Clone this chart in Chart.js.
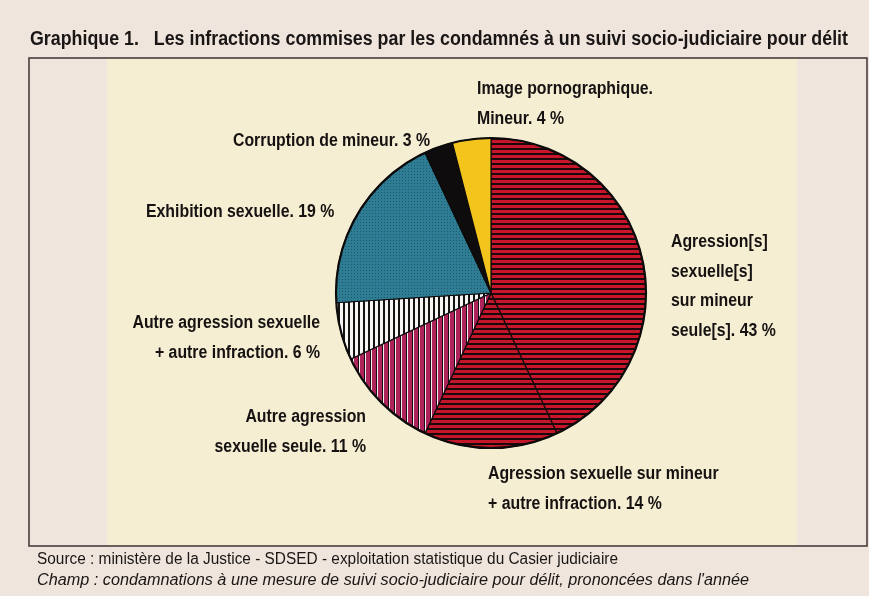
<!DOCTYPE html>
<html>
<head>
<meta charset="utf-8">
<script src="https://cdn.jsdelivr.net/npm/chart.js@4/dist/chart.umd.min.js"></script>
<style>
  html, body { margin: 0; padding: 0; }
  body { width: 869px; height: 596px; background: #efe5dc; position: relative; overflow: hidden; }
  #c { position: absolute; left: 0; top: 0; width: 869px; height: 596px; }
  .txt { position: absolute; white-space: nowrap; transform-origin: 0 0; color: #1a1616; font-family: "Liberation Sans", Arial, sans-serif; }
  #title { left: 30px; top: 27px; font-size: 20px; font-weight: 700; }
  #src1 { left: 37px; top: 550px; font-size: 16px; }
  #src2 { left: 37px; top: 571px; font-size: 16px; font-style: italic; }
</style>
</head>
<body>
<canvas id="c" width="869" height="596"></canvas>
<div id="title" class="txt" data-w="818">Graphique 1.&nbsp;&nbsp; Les infractions commises par les condamnés à un suivi socio-judiciaire pour délit</div>
<div id="src1" class="txt" data-w="581">Source : ministère de la Justice - SDSED - exploitation statistique du Casier judiciaire</div>
<div id="src2" class="txt" data-w="712">Champ : condamnations à une mesure de suivi socio-judiciaire pour délit, prononcées dans l'année</div>
<script>
// ---- data ----
const categories = [
  "Agression[s] sexuelle[s] sur mineur seule[s]",
  "Agression sexuelle sur mineur + autre infraction",
  "Autre agression sexuelle seule",
  "Autre agression sexuelle + autre infraction",
  "Exhibition sexuelle",
  "Corruption de mineur",
  "Image pornographique. Mineur"
];
const values = [43, 14, 11, 6, 19, 3, 4];
const labelLines = [
  ["Agression[s]", "sexuelle[s]", "sur mineur", "seule[s]"],
  ["Agression sexuelle sur mineur", "+ autre infraction"],
  ["Autre agression", "sexuelle seule"],
  ["Autre agression sexuelle", "+ autre infraction"],
  ["Exhibition sexuelle"],
  ["Corruption de mineur"],
  ["Image pornographique.", "Mineur"]
];

// ---- fit DOM text widths ----
document.querySelectorAll('.txt').forEach(el => {
  const w = +el.dataset.w;
  const cur = el.getBoundingClientRect().width;
  if (cur > 0) el.style.transform = 'scaleX(' + (w / cur) + ')';
});

// ---- patterns ----
function makePattern(w, h, draw) {
  const cv = document.createElement('canvas');
  cv.width = w; cv.height = h;
  const g = cv.getContext('2d');
  draw(g, w, h);
  return g.createPattern(cv, 'repeat');
}
const pRed = makePattern(5, 5, (g) => {
  g.fillStyle = '#c8152b'; g.fillRect(0, 0, 5, 5);
  g.fillStyle = '#1a080a'; g.fillRect(0, 3, 5, 2);
});
const pRed2 = makePattern(5, 5, (g) => {
  g.fillStyle = '#c4162a'; g.fillRect(0, 0, 5, 5);
  g.fillStyle = '#1a080a'; g.fillRect(0, 3, 5, 2);
});
const pMag = makePattern(6, 6, (g) => {
  g.fillStyle = '#ad235a'; g.fillRect(0, 0, 6, 6);
  g.fillStyle = '#1a0a10'; g.fillRect(4, 0, 1, 6);
  g.fillStyle = '#f3eef0'; g.fillRect(5, 0, 1, 6);
});
const pWhite = makePattern(5, 5, (g) => {
  g.fillStyle = '#f8f6f4'; g.fillRect(0, 0, 5, 5);
  g.fillStyle = '#151212'; g.fillRect(3, 0, 2, 5);
});
const pTeal = makePattern(3, 3, (g) => {
  g.fillStyle = '#2f7d94'; g.fillRect(0, 0, 3, 3);
  g.fillStyle = '#1f5868'; g.fillRect(0, 0, 1, 1);
});
const sliceFill = [pRed, pRed2, pMag, pWhite, pTeal, '#0e0c0c', '#f3c51c'];

// ---- label placement (page pixels) ----
const labelPos = [
  { x: 671, y: 247, align: 'left' },
  { x: 488, y: 479, align: 'left' },
  { x: 366, y: 422, align: 'right' },
  { x: 320, y: 328, align: 'right' },
  { x: 146, y: 217, align: 'left' },
  { x: 233, y: 146, align: 'left' },
  { x: 477, y: 94, align: 'left' }
];
const LINE_H = 29.5;
const SX = 0.88;

const framePlugin = {
  id: 'frame',
  beforeDraw(chart) {
    const ctx = chart.ctx;
    ctx.save();
    ctx.fillStyle = '#efe5dc';
    ctx.fillRect(0, 0, chart.width, chart.height);
    ctx.fillStyle = '#f5eed3';
    ctx.fillRect(107, 59, 690, 487);
    ctx.strokeStyle = '#4b3c3c';
    ctx.lineWidth = 1.6;
    ctx.strokeRect(29, 58, 838, 488);
    ctx.restore();
  },
  afterDatasetsDraw(chart) {
    const ctx = chart.ctx;
    const arc = chart.getDatasetMeta(0).data[0];
    ctx.save();
    ctx.beginPath();
    ctx.arc(arc.x, arc.y, arc.outerRadius, 0, Math.PI * 2);
    ctx.lineWidth = 2.2;
    ctx.strokeStyle = '#0c0a0a';
    ctx.stroke();
    ctx.restore();
  },
  afterDraw(chart) {
    const ctx = chart.ctx;
    ctx.save();
    ctx.fillStyle = '#161212';
    ctx.font = '700 18px "Liberation Sans", Arial, sans-serif';
    ctx.textBaseline = 'alphabetic';
    labelLines.forEach((lines, i) => {
      const p = labelPos[i];
      lines.forEach((ln, j) => {
        const txt = (j === lines.length - 1) ? ln + '. ' + values[i] + ' %' : ln;
        ctx.save();
        ctx.translate(p.x, p.y + j * LINE_H);
        ctx.scale(SX, 1);
        ctx.textAlign = p.align;
        ctx.fillText(txt, 0, 0);
        ctx.restore();
      });
    });
    ctx.restore();
  }
};

new Chart(document.getElementById('c'), {
  type: 'pie',
  data: {
    labels: categories,
    datasets: [{
      data: values,
      backgroundColor: sliceFill,
      borderColor: '#0c0a0a',
      borderWidth: 1.2
    }]
  },
  options: {
    responsive: false,
    animation: false,
    radius: 155,
    layout: { padding: { left: 336, right: 223, top: 138, bottom: 148 } },
    plugins: { legend: { display: false }, tooltip: { enabled: false }, title: { display: false } }
  },
  plugins: [framePlugin]
});
</script>
</body>
</html>
